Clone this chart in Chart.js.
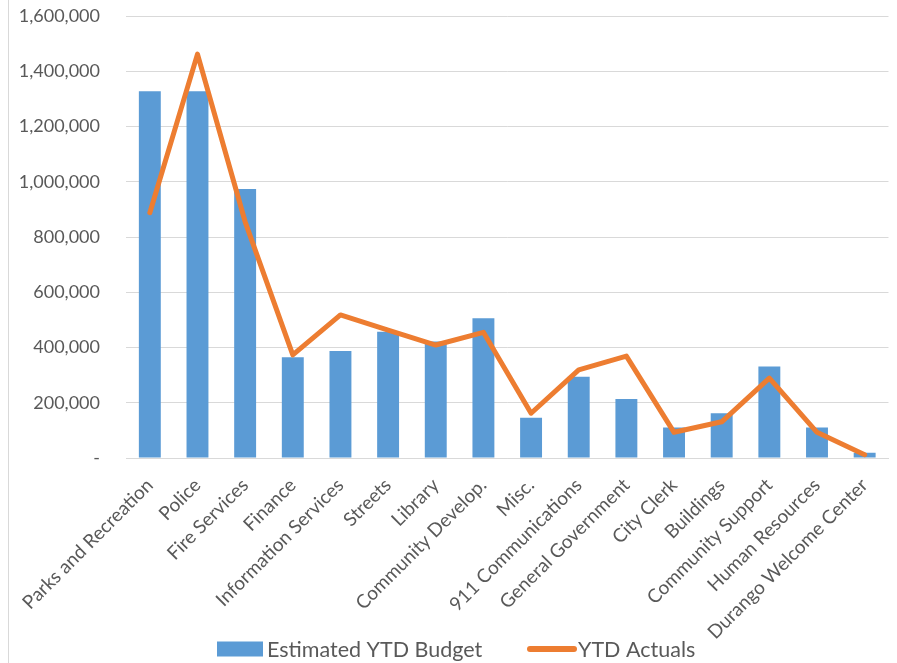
<!DOCTYPE html>
<html>
<head>
<meta charset="utf-8">
<script src="https://cdn.jsdelivr.net/npm/chart.js@4.4.1/dist/chart.umd.min.js"></script>
<style>
  html, body { margin: 0; padding: 0; background: #ffffff; }
  #wrap { position: relative; width: 897px; height: 663px; }
  #frame { position: absolute; left: 8px; top: 0; width: 1px; height: 663px; background: #d9d9d9; }
  canvas { position: absolute; left: 0; top: 0; }
</style>
</head>
<body>
<div id="wrap">
  <div id="frame"></div>
  <canvas id="c" width="897" height="663"></canvas>
</div>
<script>
const categories = [
  "Parks and Recreation", "Police", "Fire Services", "Finance", "Information Services",
  "Streets", "Library", "Community Develop.", "Misc.", "911 Communications",
  "General Government", "City Clerk", "Buildings", "Community Support",
  "Human Resources", "Durango Welcome Center"
];
const budgetValues = [
  1328000, 1328000, 974000, 365000, 387000,
  457000, 422000, 506000, 146000, 294000,
  214000, 110000, 162000, 331000,
  110000, 19000
];
const actualValues = [
  888000, 1462000, 855000, 373000, 518000,
  463000, 409000, 455000, 162000, 319000,
  369000, 93000, 131000, 289000,
  93000, 12000
];
const yTicks = [0, 200000, 400000, 600000, 800000, 1000000, 1200000, 1400000, 1600000];
const seriesNames = ["Estimated YTD Budget", "YTD Actuals"];

const FONT = "Lato, 'Open Sans', sans-serif";
const TEXT = "#595959";
const BLUE = "#5B9BD5";
const ORANGE = "#ED7D31";

const legendPlugin = {
  id: 'customLegend',
  afterDraw(chart) {
    const ctx = chart.ctx;
    ctx.save();
    const cy = 649;
    ctx.font = "21.5px " + FONT;
    ctx.textBaseline = 'middle';
    ctx.textAlign = 'left';
    ctx.fillStyle = BLUE;
    ctx.fillRect(217, cy - 7.5, 46, 15);
    ctx.fillStyle = TEXT;
    ctx.fillText(seriesNames[0], 267, cy + 1);
    ctx.strokeStyle = ORANGE;
    ctx.lineWidth = 6;
    ctx.lineCap = 'round';
    ctx.beginPath();
    ctx.moveTo(530, cy);
    ctx.lineTo(574, cy);
    ctx.stroke();
    ctx.fillText(seriesNames[1], 578, cy + 1);
    ctx.restore();
  }
};

new Chart(document.getElementById('c'), {
  data: {
    labels: categories,
    datasets: [
      {
        type: 'line',
        label: seriesNames[1],
        data: actualValues,
        borderColor: ORANGE,
        backgroundColor: ORANGE,
        borderWidth: 5,
        pointRadius: 0,
        tension: 0,
        borderJoinStyle: 'round',
        borderCapStyle: 'round',
        order: 0
      },
      {
        type: 'bar',
        label: seriesNames[0],
        data: budgetValues,
        backgroundColor: BLUE,
        borderWidth: 0,
        barPercentage: 0.46,
        categoryPercentage: 1.0,
        order: 1
      }
    ]
  },
  plugins: [legendPlugin],
  options: {
    responsive: false,
    animation: false,
    devicePixelRatio: 1,
    layout: { padding: { left: 0, right: 7, top: 16, bottom: 0 } },
    plugins: {
      tooltip: { enabled: false },
      legend: { display: false }
    },
    scales: {
      x: {
        grid: { display: false, drawTicks: false },
        border: { display: true, color: '#d9d9d9', width: 1 },
        afterFit(scale) { scale.height = 663 - 458; },
        ticks: {
          autoSkip: false,
          minRotation: 45,
          maxRotation: 45,
          padding: 16,
          color: TEXT,
          font: { family: FONT, size: 19 }
        }
      },
      y: {
        min: 0,
        max: 1600000,
        afterBuildTicks(scale) { scale.ticks = yTicks.map(v => ({ value: v })); },
        afterFit(scale) { scale.width = 126; scale.paddingTop = 0; scale.paddingBottom = 0; },
        grid: { color: '#d9d9d9', lineWidth: 1, drawTicks: false },
        border: { display: false },
        ticks: {
          padding: 26,
          color: TEXT,
          font: { family: FONT, size: 18 },
          callback(v) { return v === 0 ? '-' : v.toLocaleString('en-US'); }
        }
      }
    }
  }
});
</script>
</body>
</html>
